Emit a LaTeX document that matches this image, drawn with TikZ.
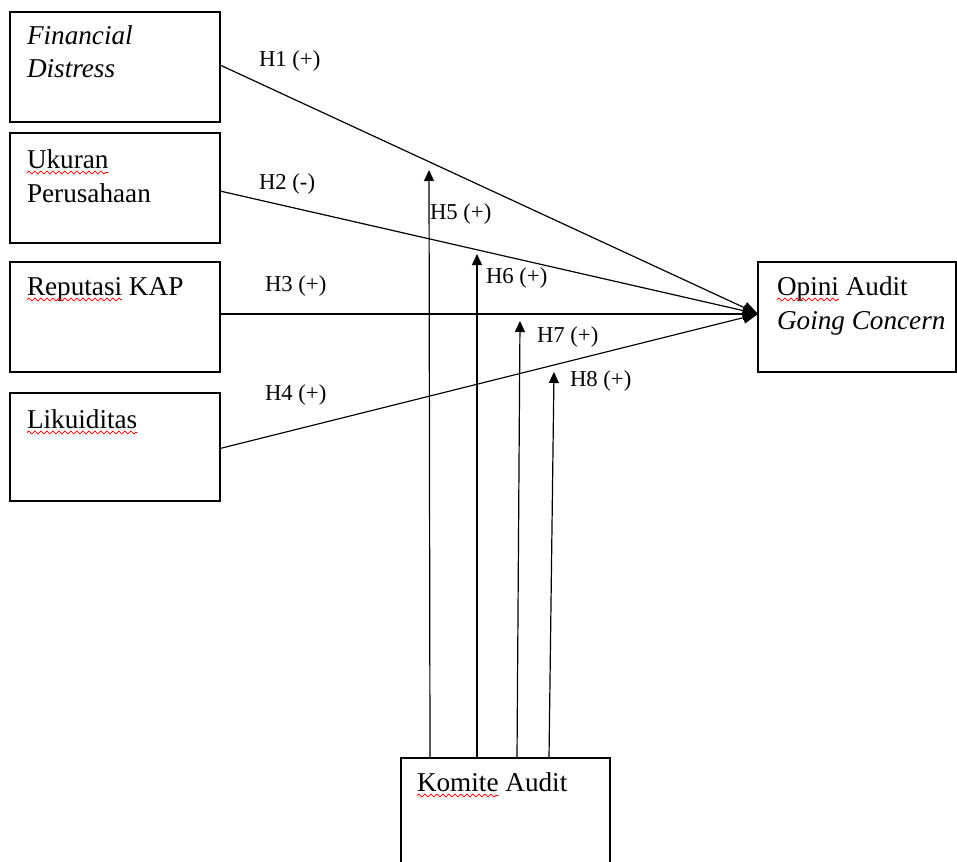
\documentclass[tikz,border=0pt]{standalone}
\usepackage{fontspec}
\setmainfont{Liberation Serif}
\usetikzlibrary{arrows.meta,decorations.pathmorphing}
\begin{document}
\begin{tikzpicture}[x=1pt,y=-1pt,
 box/.style={draw, line width=1.3pt, rectangle, inner sep=0pt, outer sep=0pt, anchor=north west},
 txt/.style={inner sep=0pt, outer sep=0pt, anchor=base west, font=\fontsize{27.2}{32}\selectfont},
 hyp/.style={inner sep=0pt, outer sep=0pt, anchor=base west, font=\fontsize{22.7}{27}\selectfont},
 conn/.style={line width=1.2pt, -{Triangle[length=15pt,width=12pt]}},
 uparr/.style={line width=1.2pt, -{Triangle[length=11pt,width=10pt]}},
 squig/.style={red, line width=0.8pt, decorate, decoration={snake, amplitude=1.4pt, segment length=6pt}}]
\useasboundingbox (0,0) rectangle (957,861);
\fill[white] (0,0) rectangle (957,861);
\clip (0,0) rectangle (957,861);

% boxes
\node[box, minimum width=210pt, minimum height=110pt] (fd) at (10,12) {};
\node[box, minimum width=210pt, minimum height=110pt] (up) at (10,133) {};
\node[box, minimum width=210pt, minimum height=110pt] (rk) at (10,262) {};
\node[box, minimum width=210pt, minimum height=108pt] (lk) at (10,393) {};
\node[box, minimum width=198pt, minimum height=110pt] (op) at (758,262) {};
\node[box, minimum width=209pt, minimum height=130pt] (ka) at (401,758) {};

% box texts
\node[txt] (fd1) at (27,45) {\itshape Financial};
\node[txt] (fd2) at (27,78) {\itshape Distress};
\node[txt] (up1) at (27,168) {Ukuran};
\node[txt] (up2) at (27,202) {Perusahaan};
\node[txt] (rk1) at (27,295) {Reputasi};
\node[txt] (rk2) at ([xshift=6.8pt]rk1.base east) {KAP};
\node[txt] (lk1) at (27,428) {Likuiditas};
\node[txt] (op1) at (777,295) {Opini};
\node[txt] (op2) at ([xshift=6.8pt]op1.base east) {Audit};
\node[txt] (op3) at (777,329) {\itshape Going Concern};
\node[txt] (ka1) at (417,791) {Komite};
\node[txt] (ka2) at ([xshift=6.8pt]ka1.base east) {Audit};

% spell-check squiggles
\foreach \w in {up1,rk1,lk1,op1,ka1}
  \draw[squig] ([yshift=-4.5pt]\w.base west) -- ([yshift=-4.5pt]\w.base east);

% connectors to dependent variable
\coordinate (tip) at ([yshift=3pt]op.west);
\draw[conn] ([yshift=2pt]fd.east) -- (tip);
\draw[conn] ([yshift=-3pt]up.east) -- (tip);
\draw[conn] ([yshift=3pt]rk.east) -- (tip);
\draw[conn] ([yshift=-1.5pt]lk.east) -- (tip);

% moderating arrows
\coordinate (t5) at (429,170);
\coordinate (t6) at (477,254);
\coordinate (t7) at (520,321);
\coordinate (t8) at (554,372);
\draw[uparr] (ka.north -| 430,0) -- (t5);
\draw[uparr] (ka.north -| 477,0) -- (t6);
\draw[uparr] (ka.north -| 517,0) -- (t7);
\draw[uparr] (ka.north -| 549,0) -- (t8);

% hypothesis labels
\node[hyp] (h1) at (259,67) {H1 (+)};
\node[hyp] (h2) at (259,189) {H2 (-)};
\node[hyp] (h3) at (265,291) {H3 (+)};
\node[hyp] (h4) at (265,400) {H4 (+)};
\node[hyp] (h5) at (430,219) {H5 (+)};
\node[hyp] (h6) at (486,283) {H6 (+)};
\node[hyp] (h7) at (537,342) {H7 (+)};
\node[hyp] (h8) at (570,386) {H8 (+)};
\end{tikzpicture}
\end{document}
